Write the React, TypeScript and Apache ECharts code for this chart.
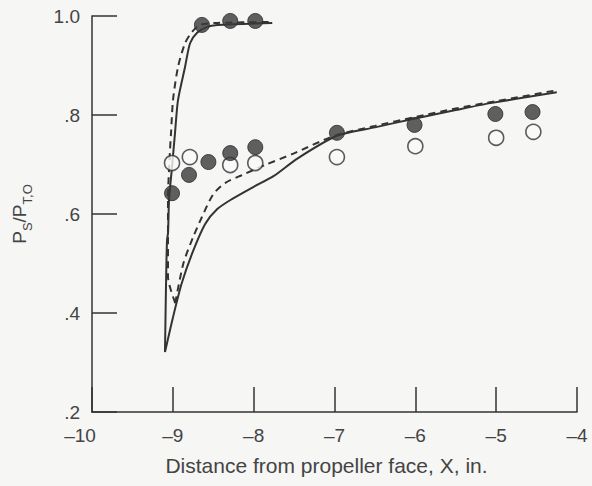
import React, { useEffect, useRef } from "react";
import * as echarts from "echarts";

// Solid curve, branch rising steeply to ~1.0
const solidUpperX = [-9.097, -9.085, -9.072, -9.059, -9.047, -9.01, -8.973, -8.936, -8.849, -8.787, -8.7, -8.577, -8.45, -7.77];
const solidUpperY = [0.321, 0.45, 0.547, 0.562, 0.628, 0.695, 0.764, 0.83, 0.897, 0.945, 0.966, 0.978, 0.982, 0.986];
// Solid curve, lower branch rising slowly to ~0.85
const solidLowerX = [-9.097, -9.0, -8.89, -8.75, -8.6, -8.45, -8.27, -8.0, -7.75, -7.46, -6.97, -6.5, -6.03, -5.5, -5.07, -4.25];
const solidLowerY = [0.321, 0.39, 0.46, 0.525, 0.58, 0.61, 0.63, 0.655, 0.677, 0.712, 0.758, 0.775, 0.792, 0.81, 0.824, 0.846];
// Dashed curve, upper branch
const dashedUpperX = [-8.97, -9.06, -9.06, -9.06, -9.035, -9.022, -8.998, -8.936, -8.849, -8.762, -8.663, -8.45, -7.77];
const dashedUpperY = [0.42, 0.473, 0.56, 0.63, 0.729, 0.764, 0.83, 0.897, 0.945, 0.968, 0.982, 0.986, 0.988];
// Dashed curve, lower branch
const dashedLowerX = [-8.97, -8.87, -8.75, -8.64, -8.5, -8.35, -8.14, -7.86, -7.51, -7.0, -6.5, -6.0, -5.5, -5.0, -4.25];
const dashedLowerY = [0.42, 0.5, 0.553, 0.594, 0.64, 0.663, 0.679, 0.699, 0.722, 0.758, 0.778, 0.796, 0.813, 0.828, 0.85];

// Filled symbols
const filledX = [-8.64, -8.29, -7.98, -9.01, -8.8, -8.56, -8.29, -7.98, -6.97, -6.01, -5.01, -4.55];
const filledY = [0.982, 0.99, 0.99, 0.642, 0.679, 0.705, 0.723, 0.735, 0.764, 0.78, 0.802, 0.806];
// Open symbols
const openX = [-9.01, -8.79, -8.29, -7.98, -6.97, -6.0, -5.0, -4.54];
const openY = [0.703, 0.715, 0.699, 0.703, 0.715, 0.737, 0.754, 0.766];

const xTicks = { min: -10, max: -4, interval: 1 };
const yTicks = { min: 0.2, max: 1.0, interval: 0.2 };

const zip = (xs: number[], ys: number[]) => xs.map((x, i) => [x, ys[i]]);

const INK = "#333333";
const TEXT = "#444444";
const FONT = "'Liberation Sans', Arial, Helvetica, sans-serif";

export default function App() {
  const ref = useRef<HTMLDivElement>(null);
  useEffect(() => {
    if (!ref.current) return;
    const chart = echarts.init(ref.current, undefined, { renderer: "svg" });
    const lineStyleSolid = { color: INK, width: 2, type: "solid" as const };
    const lineStyleDashed = { color: INK, width: 2, type: [7, 5] as any };
    chart.setOption({
      animation: false,
      backgroundColor: "#f6f6f5",
      textStyle: { fontFamily: FONT },
      grid: { left: 92, right: 15, top: 16, bottom: 74 },
      xAxis: {
        type: "value",
        min: xTicks.min,
        max: xTicks.max,
        interval: xTicks.interval,
        axisLine: { show: true, lineStyle: { color: INK, width: 1.5 } },
        axisTick: { show: true, inside: true, length: 25, lineStyle: { color: INK, width: 1.5 } },
        splitLine: { show: false },
        axisLabel: {
          color: TEXT,
          fontSize: 19,
          margin: 14,
          fontFamily: FONT,
          formatter: (v: number) => {
            const s = v < 0 ? "\u2013" + Math.abs(v) : String(v);
            return v === xTicks.min ? "{a|" + s + "}" : s;
          },
          rich: {
            a: { fontSize: 19, color: TEXT, fontFamily: FONT, padding: [0, 24, 0, 0] },
          },
        },
        name: "Distance from propeller face, X, in.",
        nameLocation: "middle",
        nameGap: 43,
        nameTextStyle: { color: TEXT, fontSize: 21, fontFamily: FONT, padding: [0, 16, 0, 0] },
      },
      yAxis: {
        type: "value",
        min: yTicks.min,
        max: yTicks.max,
        interval: yTicks.interval,
        axisLine: { show: true, lineStyle: { color: INK, width: 1.5 } },
        axisTick: { show: true, inside: true, length: 25, lineStyle: { color: INK, width: 1.5 } },
        splitLine: { show: false },
        axisLabel: {
          color: TEXT,
          fontSize: 19,
          margin: 12,
          fontFamily: FONT,
          formatter: (v: number) => {
            const r = Math.round(v * 10) / 10;
            return r >= 1 ? r.toFixed(1) : r.toFixed(1).replace(/^0/, "");
          },
        },
        name: "{p|P}{s|S}{p|/P}{s|T,O}",
        nameLocation: "middle",
        nameRotate: 90,
        nameGap: 58,
        nameTextStyle: {
          color: TEXT,
          fontFamily: FONT,
          rich: {
            p: { fontSize: 19, lineHeight: 19, verticalAlign: "top", color: TEXT, fontFamily: FONT },
            s: { fontSize: 13, lineHeight: 24, verticalAlign: "bottom", color: TEXT, fontFamily: FONT },
          },
        },
      },
      series: [
        { type: "line", data: zip(solidUpperX, solidUpperY), symbol: "none", lineStyle: lineStyleSolid, smooth: 0.25, z: 2 },
        { type: "line", data: zip(solidLowerX, solidLowerY), symbol: "none", lineStyle: lineStyleSolid, smooth: 0.25, z: 2 },
        { type: "line", data: zip(dashedUpperX, dashedUpperY), symbol: "none", lineStyle: lineStyleDashed, smooth: 0.25, z: 2 },
        { type: "line", data: zip(dashedLowerX, dashedLowerY), symbol: "none", lineStyle: lineStyleDashed, smooth: 0.25, z: 2 },
        {
          type: "scatter",
          data: zip(openX, openY),
          symbol: "circle",
          symbolSize: 15,
          itemStyle: { color: "#fafafa", borderColor: INK, borderWidth: 1.6 },
          z: 3,
        },
        {
          type: "scatter",
          data: zip(filledX, filledY),
          symbol: "circle",
          symbolSize: 15,
          itemStyle: { color: "#3a3a3a", borderColor: "#2a2a2a", borderWidth: 1 },
          z: 4,
        },
      ],
    });
    return () => chart.dispose();
  }, []);
  return (
    <div
      ref={ref}
      style={{ position: "absolute", left: 0, top: 0, width: 592, height: 486 }}
    />
  );
}
